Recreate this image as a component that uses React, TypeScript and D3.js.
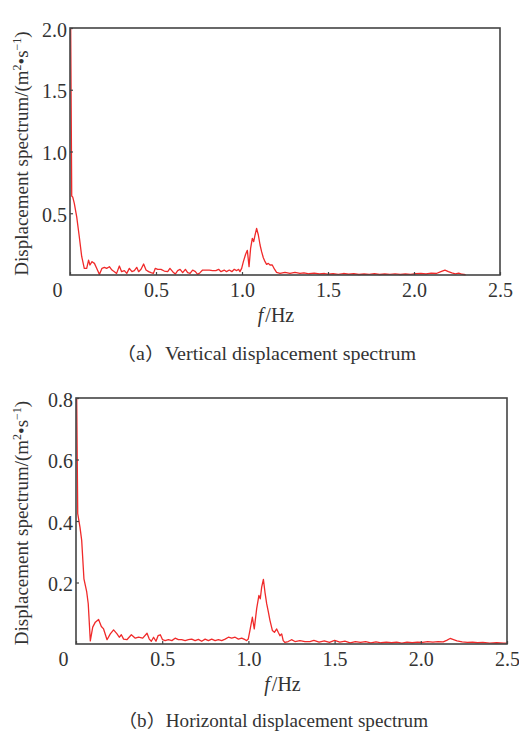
import React, { useEffect, useRef } from "react";
import * as d3 from "d3";

// Vertical displacement spectrum (panel a)
const vertFreq = [
  0.004, 0.01, 0.016, 0.025, 0.039, 0.054, 0.068, 0.083, 0.097, 0.108, 0.116, 0.128, 0.142, 0.155, 0.171,
  0.186, 0.2, 0.213, 0.229, 0.244, 0.258, 0.271, 0.287, 0.3, 0.316, 0.33, 0.345, 0.36, 0.374, 0.388, 0.399,
  0.413, 0.428, 0.442, 0.457, 0.471, 0.485, 0.496, 0.51, 0.529, 0.548, 0.568, 0.581, 0.597, 0.612, 0.626,
  0.64, 0.655, 0.671, 0.684, 0.698, 0.713, 0.729, 0.742, 0.756, 0.771, 0.791, 0.81, 0.829, 0.848, 0.864,
  0.878, 0.897, 0.91, 0.926, 0.941, 0.955, 0.968, 0.98, 0.988, 0.998, 1.008, 1.021, 1.031, 1.041, 1.05,
  1.06, 1.068, 1.076, 1.085, 1.095, 1.105, 1.114, 1.124, 1.134, 1.143, 1.153, 1.163, 1.176, 1.188, 1.201,
  1.221, 1.25, 1.279, 1.308, 1.337, 1.36, 1.39, 1.42, 1.45, 1.48, 1.5, 1.53, 1.56, 1.59, 1.62, 1.65, 1.68,
  1.71, 1.74, 1.77, 1.8, 1.83, 1.86, 1.89, 1.92, 1.95, 1.98, 2.01, 2.04, 2.07, 2.1, 2.13, 2.16, 2.18, 2.2,
  2.22, 2.24, 2.26, 2.28, 2.3,
];
const vertValue = [
  2.0, 0.64, 0.63, 0.58, 0.47, 0.31, 0.15, 0.054, 0.054, 0.12, 0.081, 0.108, 0.094, 0.054, 0.005,
  0.054, 0.062, 0.054, 0.067, 0.04, 0.027, 0.013, 0.073, 0.027, 0.035, 0.013, 0.054, 0.027, 0.035, 0.062, 0.027,
  0.046, 0.089, 0.04, 0.027, 0.019, 0.013, 0.054, 0.046, 0.046, 0.032, 0.027, 0.054, 0.027, 0.008, 0.035,
  0.046, 0.019, 0.046, 0.019, 0.013, 0.04, 0.027, 0.005, 0.019, 0.04, 0.04, 0.04, 0.035, 0.035, 0.046,
  0.027, 0.04, 0.027, 0.04, 0.027, 0.046, 0.035, 0.046, 0.027, 0.054, 0.108, 0.168, 0.2, 0.068, 0.216,
  0.297, 0.27, 0.324, 0.378, 0.324, 0.243, 0.189, 0.14, 0.108, 0.086, 0.094, 0.081, 0.081, 0.049, 0.022,
  0.013, 0.022, 0.013, 0.022, 0.013, 0.018, 0.01, 0.015, 0.008, 0.012, 0.006, 0.01, 0.005, 0.012, 0.006, 0.01, 0.004,
  0.008, 0.005, 0.01, 0.004, 0.008, 0.005, 0.009, 0.004, 0.008, 0.005, 0.01, 0.012, 0.008, 0.015, 0.012, 0.03, 0.04, 0.028,
  0.018, 0.01, 0.015, 0.006, 0.002,
];

// Horizontal displacement spectrum (panel b)
const horizFreq = [
  0.004, 0.01, 0.023, 0.033, 0.046, 0.062, 0.071, 0.083, 0.097, 0.112, 0.131, 0.147, 0.16, 0.18, 0.199,
  0.218, 0.238, 0.251, 0.263, 0.276, 0.295, 0.321, 0.344, 0.363, 0.387, 0.412, 0.425, 0.437, 0.45, 0.464,
  0.476, 0.489, 0.502, 0.517, 0.536, 0.556, 0.575, 0.594, 0.613, 0.633, 0.652, 0.671, 0.691, 0.71, 0.729,
  0.749, 0.768, 0.787, 0.807, 0.826, 0.845, 0.865, 0.884, 0.903, 0.923, 0.942, 0.961, 0.981, 0.99, 0.999,
  1.009, 1.023, 1.034, 1.048, 1.061, 1.069, 1.077, 1.087, 1.096, 1.106, 1.116, 1.125, 1.139, 1.151, 1.164,
  1.173, 1.183, 1.193, 1.202, 1.212, 1.231, 1.25, 1.27, 1.299, 1.328, 1.357, 1.38, 1.41, 1.44, 1.47, 1.5,
  1.53, 1.56, 1.59, 1.62, 1.65, 1.68, 1.71, 1.74, 1.77, 1.8, 1.83, 1.86, 1.89, 1.92, 1.95, 1.98, 2.01, 2.04,
  2.07, 2.1, 2.13, 2.15, 2.17, 2.19, 2.21, 2.24, 2.27, 2.3, 2.33, 2.36, 2.4, 2.44, 2.48, 2.5,
];
const horizValue = [
  0.8, 0.424, 0.38, 0.337, 0.212, 0.17, 0.131, 0.01, 0.055, 0.071, 0.08, 0.057, 0.049, 0.014, 0.033,
  0.046, 0.033, 0.022, 0.03, 0.016, 0.014, 0.03, 0.019, 0.022, 0.019, 0.035, 0.016, 0.009, 0.022, 0.009,
  0.027, 0.03, 0.014, 0.011, 0.014, 0.011, 0.019, 0.014, 0.014, 0.011, 0.014, 0.016, 0.011, 0.015, 0.009,
  0.016, 0.011, 0.016, 0.011, 0.014, 0.011, 0.016, 0.022, 0.019, 0.022, 0.016, 0.019, 0.014, 0.011, 0.016,
  0.044, 0.087, 0.049, 0.115, 0.158, 0.147, 0.185, 0.21, 0.169, 0.131, 0.104, 0.077, 0.044, 0.038, 0.049,
  0.038, 0.027, 0.033, 0.011, 0.005, 0.008, 0.014, 0.008, 0.011, 0.008, 0.008, 0.012, 0.006, 0.01, 0.005, 0.012,
  0.006, 0.009, 0.004, 0.008, 0.005, 0.008, 0.004, 0.007, 0.004, 0.006, 0.004, 0.006, 0.003, 0.006, 0.004, 0.006, 0.005, 0.008,
  0.006, 0.008, 0.007, 0.012, 0.018, 0.014, 0.01, 0.007, 0.005, 0.006, 0.004, 0.005, 0.003, 0.004, 0.003, 0.003,
];

const xTicks = [0, 0.5, 1.0, 1.5, 2.0, 2.5];
const vertYTicks = [0.5, 1.0, 1.5, 2.0];
const horizYTicks = [0.2, 0.4, 0.6, 0.8];

const FONT = "'Liberation Serif', 'Times New Roman', 'Noto Sans CJK SC', serif";
const INK = "#333";

const drawPanel = (svg, cfg) => {
  const { left, top, right, bottom, freq, values, yMax, yTicks, caption, captionY, captionX, captionLen } = cfg;
  const pts = freq.map((f, i) => ({ f, v: values[i] }));

  const x = d3.scaleLinear().domain([0, 2.5]).range([left, right]);
  const y = d3.scaleLinear().domain([0, yMax]).range([bottom, top]);

  const g = svg.append("g");

  // spectrum line
  g.append("path")
    .datum(pts)
    .attr("fill", "none")
    .attr("stroke", "#f02a2a")
    .attr("stroke-width", 1.3)
    .attr("stroke-linejoin", "round")
    .attr("d", d3.line().x(d => x(d.f)).y(d => y(d.v)));

  // frame
  g.append("rect")
    .attr("x", left)
    .attr("y", top)
    .attr("width", right - left)
    .attr("height", bottom - top)
    .attr("fill", "none")
    .attr("stroke", "#444")
    .attr("stroke-width", 1.6);

  // x axis
  const xa = g.append("g")
    .attr("transform", `translate(0,${bottom})`)
    .call(d3.axisBottom(x).tickValues(xTicks).tickSize(-3).tickPadding(8)
      .tickFormat(d => (d === 0 ? "0" : d3.format(".1f")(d))));
  xa.select(".domain").remove();
  xa.selectAll("line").attr("stroke", "#444").attr("stroke-width", 1.2);
  xa.selectAll("text")
    .attr("font-family", FONT)
    .attr("font-size", 20)
    .attr("fill", INK)
    .attr("dx", d => (d === 0 ? -13 : 0));

  // y axis
  const ya = g.append("g")
    .attr("transform", `translate(${left},0)`)
    .call(d3.axisLeft(y).tickValues(yTicks).tickSize(-3).tickPadding(3).tickFormat(d3.format(".1f")));
  ya.select(".domain").remove();
  ya.selectAll("line").attr("stroke", "#444").attr("stroke-width", 1.2);
  ya.selectAll("text")
    .attr("font-family", FONT)
    .attr("font-size", 20)
    .attr("fill", INK)
    .attr("dy", "0.4em");

  // y label
  const midY = (top + bottom) / 2 + 2;
  const yl = g.append("text")
    .attr("transform", `translate(28,${midY}) rotate(-90)`)
    .attr("text-anchor", "middle")
    .attr("font-family", FONT)
    .attr("font-size", 19)
    .attr("fill", INK);
  yl.append("tspan").text("Displacement spectrum/(m");
  yl.append("tspan").attr("dy", -7).attr("font-size", 12).text("2");
  yl.append("tspan").attr("dy", 7).text("•s");
  yl.append("tspan").attr("dy", -7).attr("font-size", 12).text("−1");
  yl.append("tspan").attr("dy", 7).text(")");

  // x label
  const xl = g.append("text")
    .attr("x", (left + right) / 2 - 9)
    .attr("y", bottom + 47)
    .attr("text-anchor", "middle")
    .attr("font-family", FONT)
    .attr("font-size", 20)
    .attr("fill", INK);
  xl.append("tspan").attr("font-style", "italic").text("f");
  xl.append("tspan").attr("dx", 2).text("/Hz");

  // caption
  g.append("text")
    .attr("x", captionX)
    .attr("y", captionY)
    .attr("text-anchor", "middle")
    .attr("font-family", FONT)
    .attr("font-size", 18)
    .attr("textLength", captionLen)
    .attr("lengthAdjust", "spacingAndGlyphs")
    .attr("fill", INK)
    .text(caption);
};

const App = () => {
  const svgRef = useRef(null);

  useEffect(() => {
    const svg = d3.select(svgRef.current);
    svg.selectAll("*").remove();

    drawPanel(svg, {
      left: 70, top: 28, right: 500, bottom: 275,
      freq: vertFreq, values: vertValue, yMax: 2.0, yTicks: vertYTicks,
      caption: "（a）Vertical displacement spectrum", captionX: 266, captionY: 360, captionLen: 300,
    });
    drawPanel(svg, {
      left: 76, top: 398, right: 507, bottom: 644,
      freq: horizFreq, values: horizValue, yMax: 0.8, yTicks: horizYTicks,
      caption: "（b）Horizontal displacement spectrum", captionX: 273, captionY: 727, captionLen: 310,
    });
  }, []);

  return (
    <svg
      ref={svgRef}
      width={519}
      height={731}
      style={{ position: "absolute", left: 0, top: 0, background: "#fff" }}
    />
  );
};

export default App;
